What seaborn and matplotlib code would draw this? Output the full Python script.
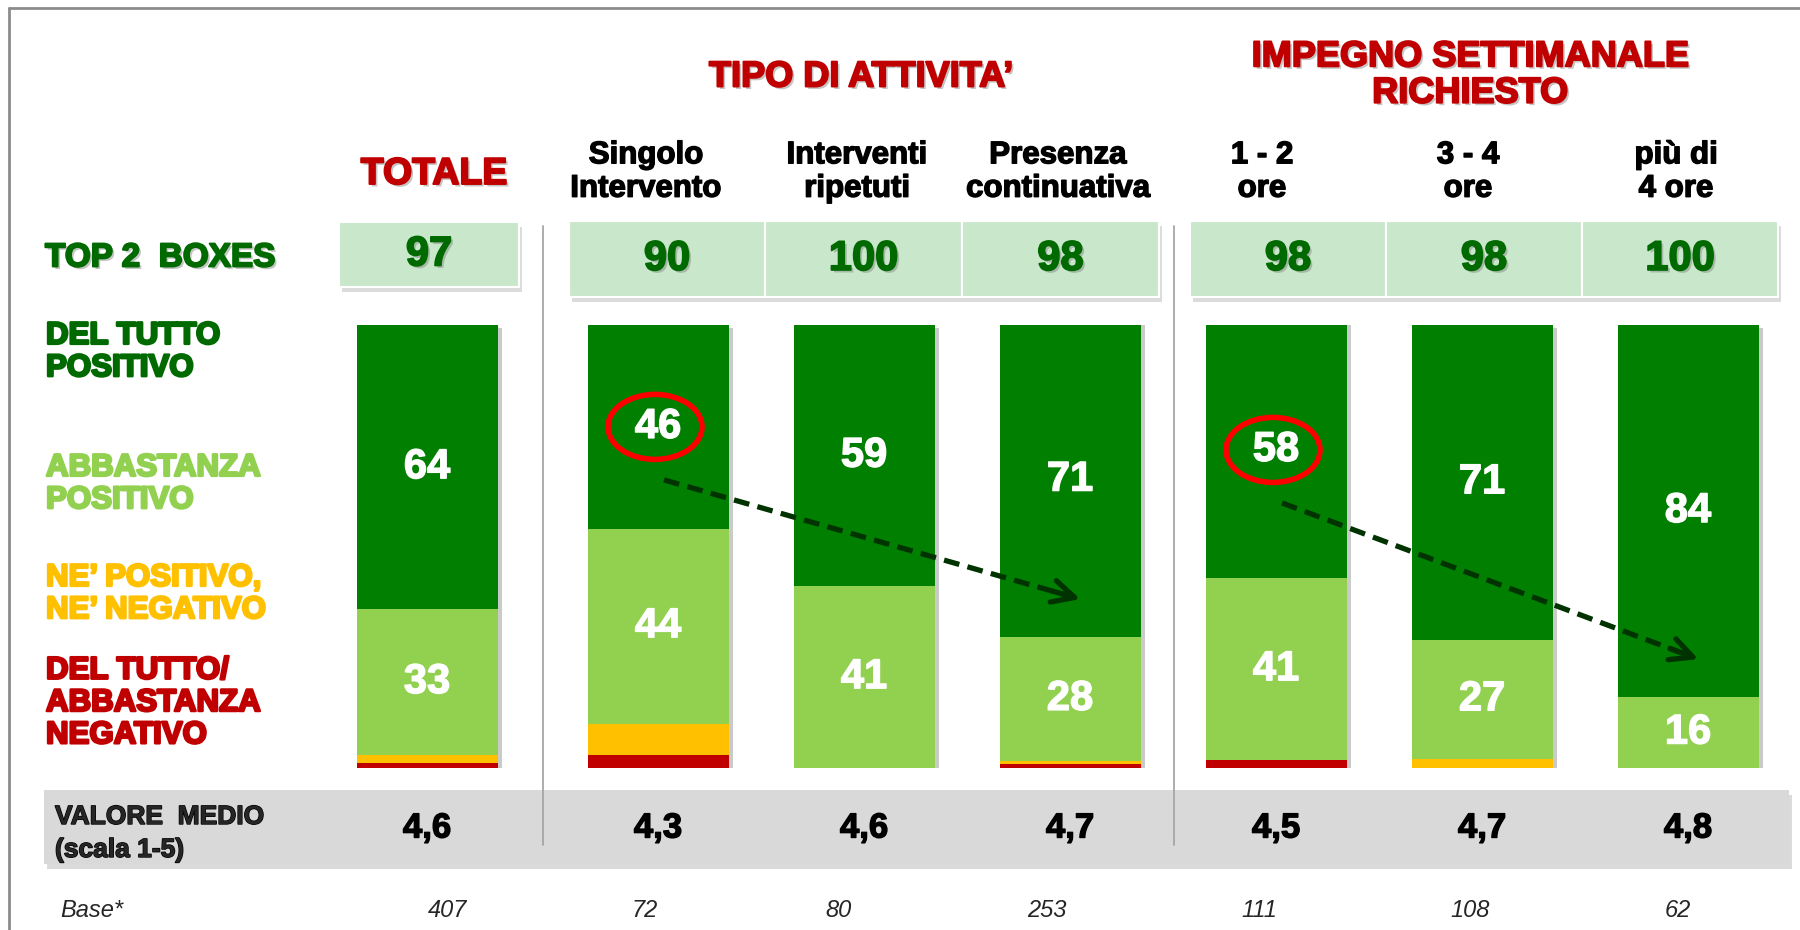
import matplotlib
matplotlib.use('Agg')

import numpy as np
import pandas as pd
import seaborn as sns
import matplotlib.pyplot as plt
import matplotlib.patheffects as pe
from matplotlib.patches import Rectangle, Ellipse

# ---- data ----
columns = ["TOTALE", "Singolo\nIntervento", "Interventi\nripetuti", "Presenza\ncontinuativa",
           "1 - 2\nore", "3 - 4\nore", "più di\n4 ore"]
del_tutto_positivo = [64, 46, 59, 71, 58, 71, 84]
abbastanza_positivo = [33, 44, 41, 28, 41, 27, 16]
ne_pos_ne_neg = [1.8, 7, 0, 0.8, 0, 2, 0]
negativo = [1.1, 3, 0, 0.8, 1.8, 0, 0]
top2 = [97, 90, 100, 98, 98, 98, 100]
valore_medio = [4.6, 4.3, 4.6, 4.7, 4.5, 4.7, 4.8]
base = [407, 72, 80, 253, 111, 108, 62]
groups = ["TIPO DI ATTIVITA’", "IMPEGNO SETTIMANALE\nRICHIESTO"]
highlighted = ["Singolo\nIntervento", "1 - 2\nore"]
trends = [("Singolo\nIntervento", "Presenza\ncontinuativa"), ("1 - 2\nore", "più di\n4 ore")]
row_labels = ["DEL TUTTO\nPOSITIVO", "ABBASTANZA\nPOSITIVO", "NE’ POSITIVO,\nNE’ NEGATIVO",
              "DEL TUTTO/\nABBASTANZA\nNEGATIVO"]

# ---- layout (pixels on a 1800x930 canvas) ----
W, H = 1800, 930
col_x = [427, 658, 864, 1070, 1276, 1482, 1688]
head_x = [434, 646, 857, 1058, 1262, 1468, 1676]
base_x = [448, 645, 838, 1047, 1259, 1470, 1678]
BAR_W = 141
BAR_TOP, BAR_BOT = 325, 768

DARK = "#007F00"
LIGHT = "#92D050"
ORANGE = "#FFC000"
RED = "#C00000"
LABEL_DARK = "#006A00"
BOX = "#C9E7CB"

sns.set_style("white")
plt.rcParams['font.family'] = ['Liberation Sans', 'DejaVu Sans']


def heavy(color, lw=1.2, shadow=False):
    fx = []
    if shadow:
        fx.append(pe.SimplePatchShadow(offset=(1.8, -1.8), shadow_rgbFace='#7f7f7f', alpha=0.45))
    fx += [pe.Stroke(linewidth=lw, foreground=color), pe.Normal()]
    return fx


shadow_box = [pe.SimplePatchShadow(offset=(2.5, -3.5), shadow_rgbFace='#b0b0b0', alpha=0.45),
              pe.Normal()]

fig = plt.figure(figsize=(18, 9.3), dpi=100)
bg = fig.add_axes([0, 0, 1, 1])
bg.set_xlim(0, W)
bg.set_ylim(H, 0)
bg.axis('off')

# frame lines (top and left)
bg.plot([9, W], [8, 8], color="#8C8C8C", lw=2)
bg.plot([9, 9], [8, H], color="#8C8C8C", lw=2)

# group headers
bg.text(861, 77, groups[0], ha='center', va='center', fontsize=26, fontweight='bold',
        color=RED, path_effects=heavy(RED, 1.4, True))
bg.text(1470, 75, groups[1], ha='center', va='center', fontsize=26, fontweight='bold',
        color=RED, linespacing=1.05, path_effects=heavy(RED, 1.4, True))

# column headers
for i, (name, hx) in enumerate(zip(columns, head_x)):
    if i == 0:
        bg.text(hx, 174, name, ha='center', va='center', fontsize=27, fontweight='bold',
                color=RED, path_effects=heavy(RED, 1.4, True))
    else:
        bg.text(hx, 172, name, ha='center', va='center', fontsize=22.5, fontweight='bold',
                color='black', linespacing=1.15, path_effects=heavy('black', 1.0))

# top 2 boxes
bg.text(45, 258, "TOP 2  BOXES", ha='left', va='center', fontsize=24, fontweight='bold',
        color=LABEL_DARK, path_effects=heavy(LABEL_DARK, 1.4, True))
box_spans = [(339, 519, 222, 287),
             (569, 765, 221, 297), (765, 962, 221, 297), (962, 1159, 221, 297),
             (1190, 1386, 221, 297), (1386, 1582, 221, 297), (1582, 1778, 221, 297)]
for val, (x0, x1, y0, y1) in zip(top2, box_spans):
    r = Rectangle((x0, y0), x1 - x0, y1 - y0, facecolor=BOX, edgecolor='white', lw=1.5)
    r.set_path_effects(shadow_box)
    bg.add_patch(r)
    bg.text((x0 + x1) / 2, (y0 + y1) / 2, str(val), ha='center', va='center', fontsize=30,
            fontweight='bold', color=LABEL_DARK, path_effects=heavy(LABEL_DARK, 1.2, True))

# row labels
for lab, y, c in zip(row_labels, [352, 484, 594, 703], [LABEL_DARK, LIGHT, ORANGE, RED]):
    bg.text(46, y, lab, ha='left', va='center', fontsize=22.5, fontweight='bold', color=c,
            linespacing=1.1, path_effects=heavy(c, 1.8))

# valore medio band
band = Rectangle((44, 790), 1745, 74, facecolor="#D9D9D9", edgecolor='none')
band.set_path_effects(shadow_box)
bg.add_patch(band)
bg.text(55, 817, "VALORE  MEDIO", ha='left', va='center', fontsize=19, fontweight='bold',
        path_effects=heavy('black', 1.0))
bg.text(55, 850, "(scala 1-5)", ha='left', va='center', fontsize=19, fontweight='bold',
        path_effects=heavy('black', 1.0))
for v, x in zip(valore_medio, col_x):
    bg.text(x, 828, f"{v:.1f}".replace('.', ','), ha='center', va='center', fontsize=25,
            fontweight='bold', color='black', path_effects=heavy('black', 1.0))

# group separators
for sx in [543, 1174]:
    bg.plot([sx, sx], [226, 845], color="#A6A6A6", lw=1.3)

# base
bg.text(60, 910, "Base*", ha='left', va='center', fontsize=17, style='italic')
for b, x in zip(base, base_x):
    bg.text(x, 910, str(b), ha='center', va='center', fontsize=17, style='italic')

# ---- stacked bars ----
df = pd.DataFrame({"col": columns, "x": col_x,
                   "dtp": del_tutto_positivo, "abb": abbastanza_positivo,
                   "ne": ne_pos_ne_neg, "neg": negativo})
df["l_red"] = df["neg"]
df["l_orange"] = df["l_red"] + df["ne"]
df["l_light"] = df["l_orange"] + df["abb"]
df["l_dark"] = df["l_light"] + df["dtp"]

ax = fig.add_axes([0, 1 - BAR_BOT / H, 1, (BAR_BOT - BAR_TOP) / H])
ax.patch.set_alpha(0)
width = BAR_W / np.diff(sorted(col_x)).min()
for i, (layer, color) in enumerate([("l_dark", DARK), ("l_light", LIGHT),
                                    ("l_orange", ORANGE), ("l_red", RED)]):
    sns.barplot(data=df, x="x", y=layer, native_scale=True, orient="x", width=width,
                color=color, saturation=1, linewidth=0, errorbar=None, ax=ax)
    if i == 0:
        for p in ax.patches:
            p.set_path_effects([pe.SimplePatchShadow(offset=(3, -2), shadow_rgbFace='#8a8a8a',
                                                     alpha=0.45), pe.Normal()])
ax.set_xlim(0, W)
ax.set_ylim(0, 100)
ax.axis('off')

for _, r in df.iterrows():
    ax.text(r["x"], r["l_light"] + r["dtp"] / 2, f"{r['dtp']:.0f}", ha='center', va='center',
            fontsize=30, fontweight='bold', color='white', path_effects=heavy('white', 1.0))
    ax.text(r["x"], r["l_orange"] + r["abb"] / 2, f"{r['abb']:.0f}", ha='center', va='center',
            fontsize=30, fontweight='bold', color='white', path_effects=heavy('white', 1.0))

px = 100 / (BAR_BOT - BAR_TOP)  # percent per pixel
for name in highlighted:
    r = df[df["col"] == name].iloc[0]
    ax.add_patch(Ellipse((r["x"] - 3, r["l_light"] + r["dtp"] / 2), 94, 65 * px,
                         facecolor='none', edgecolor='#FF0000', lw=4, zorder=5))

for a, b in trends:
    ra = df[df["col"] == a].iloc[0]
    rb = df[df["col"] == b].iloc[0]
    x0, y0 = ra["x"] + 6, ra["l_light"] + ra["dtp"] / 2 - 53 * px
    x1, y1 = rb["x"] + 13, rb["l_light"] + 37 * px
    ax.plot([x0, x0 + (x1 - x0) * 0.97], [y0, y0 + (y1 - y0) * 0.97], color='#003300',
            lw=3.8, ls=(0, (3, 1.6)), zorder=6)
    ax.annotate('', xy=(x1, y1), xytext=(x0 + (x1 - x0) * 0.92, y0 + (y1 - y0) * 0.92),
                arrowprops=dict(arrowstyle='->', color='#003300', lw=3.8, mutation_scale=40),
                zorder=6)

fig.savefig("out.png", dpi=100)
plt.close(fig)
